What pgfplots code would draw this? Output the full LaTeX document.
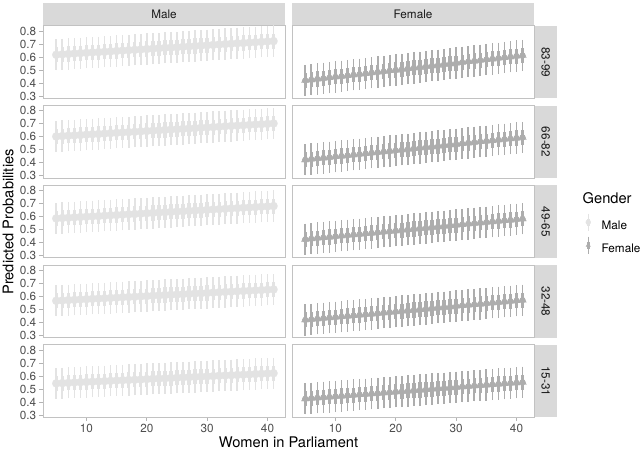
\documentclass[border=0pt]{standalone}
\usepackage{fontspec}
\setmainfont{TeX Gyre Heros}
\usepackage{pgfplots}
\usepackage{pgfplotstable}
\pgfplotsset{compat=1.18}

\definecolor{malecol}{HTML}{E3E3E3}
\definecolor{femalecol}{HTML}{ADADAD}
\definecolor{stripcol}{HTML}{D9D9D9}
\definecolor{bordercol}{HTML}{C2C2C2}
\definecolor{tickcol}{HTML}{B3B3B3}
\definecolor{labcol}{HTML}{4D4D4D}
\definecolor{striptext}{HTML}{1A1A1A}

% predicted probabilities, one column per panel (m = Male, f = Female; 1 = 83-99 ... 5 = 15-31)
\pgfplotstableread{
x  m1    m2    m3    m4    m5    f1    f2    f3    f4    f5
5  0.617 0.602 0.585 0.565 0.543 0.420 0.423 0.425 0.418 0.425
6  0.620 0.605 0.588 0.567 0.545 0.425 0.428 0.429 0.422 0.429
7  0.623 0.608 0.590 0.570 0.547 0.431 0.433 0.434 0.426 0.432
8  0.626 0.610 0.593 0.572 0.550 0.436 0.437 0.438 0.431 0.436
9  0.629 0.613 0.596 0.575 0.552 0.441 0.442 0.442 0.435 0.439
10 0.632 0.616 0.598 0.577 0.554 0.447 0.447 0.447 0.439 0.443
11 0.635 0.619 0.601 0.580 0.556 0.452 0.452 0.451 0.443 0.446
12 0.637 0.621 0.603 0.582 0.558 0.457 0.456 0.456 0.448 0.450
13 0.640 0.624 0.606 0.584 0.560 0.463 0.461 0.460 0.452 0.453
14 0.643 0.627 0.609 0.587 0.563 0.468 0.466 0.464 0.456 0.457
15 0.646 0.630 0.611 0.589 0.565 0.473 0.471 0.469 0.460 0.460
16 0.649 0.633 0.614 0.592 0.567 0.479 0.476 0.473 0.464 0.464
17 0.652 0.635 0.617 0.594 0.569 0.484 0.480 0.477 0.469 0.467
18 0.655 0.638 0.619 0.596 0.571 0.489 0.485 0.482 0.473 0.471
19 0.658 0.641 0.622 0.599 0.573 0.495 0.490 0.486 0.477 0.474
20 0.661 0.644 0.625 0.601 0.576 0.500 0.495 0.490 0.481 0.478
21 0.664 0.646 0.627 0.604 0.578 0.505 0.499 0.495 0.486 0.481
22 0.667 0.649 0.630 0.606 0.580 0.511 0.504 0.499 0.490 0.485
23 0.670 0.652 0.633 0.609 0.582 0.516 0.509 0.504 0.494 0.489
24 0.672 0.655 0.635 0.611 0.584 0.521 0.514 0.508 0.498 0.492
25 0.675 0.658 0.638 0.613 0.586 0.527 0.519 0.512 0.502 0.496
26 0.678 0.660 0.640 0.616 0.589 0.532 0.523 0.517 0.507 0.499
27 0.681 0.663 0.643 0.618 0.591 0.537 0.528 0.521 0.511 0.503
28 0.684 0.666 0.646 0.621 0.593 0.543 0.533 0.525 0.515 0.506
29 0.687 0.669 0.648 0.623 0.595 0.548 0.538 0.530 0.519 0.510
30 0.690 0.671 0.651 0.625 0.597 0.553 0.542 0.534 0.524 0.513
31 0.693 0.674 0.654 0.628 0.599 0.559 0.547 0.538 0.528 0.517
32 0.696 0.677 0.656 0.630 0.602 0.564 0.552 0.543 0.532 0.520
33 0.699 0.680 0.659 0.633 0.604 0.569 0.557 0.547 0.536 0.524
34 0.702 0.683 0.662 0.635 0.606 0.575 0.562 0.551 0.540 0.527
35 0.705 0.685 0.664 0.638 0.608 0.580 0.566 0.556 0.545 0.531
36 0.707 0.688 0.667 0.640 0.610 0.585 0.571 0.560 0.549 0.534
37 0.710 0.691 0.669 0.642 0.612 0.591 0.576 0.565 0.553 0.538
38 0.713 0.694 0.672 0.645 0.615 0.596 0.581 0.569 0.557 0.541
39 0.716 0.696 0.675 0.647 0.617 0.601 0.585 0.573 0.562 0.545
40 0.719 0.699 0.677 0.650 0.619 0.607 0.590 0.578 0.566 0.548
41 0.722 0.702 0.680 0.652 0.621 0.612 0.595 0.582 0.570 0.552
}\preds

\pgfplotsset{
  panel/.style={
    scale only axis, width=181.5pt, height=54.375pt, anchor=south west,
    xmin=2.8, xmax=42.9, ymin=0.281, ymax=0.838,
    axis line style={draw=bordercol, line width=0.75pt},
    tick align=outside, tick pos=left, major tick length=2.75pt,
    tick style={draw=tickcol, line width=0.6pt},
    xtick=\empty, ytick=\empty,
    tick label style={font=\fontsize{8.8}{10}\selectfont, text=labcol, inner sep=2.2pt},
  },
  leftcol/.style={ytick={0.3,0.4,0.5,0.6,0.7,0.8},
    yticklabels={0.3,0.4,0.5,0.6,0.7,0.8}},
  bottomrow/.style={xtick={10,20,30,40}, xticklabels={10,20,30,40}},
  outerbar/.style={forget plot, only marks, mark=none, draw=#1, fill=#1,
    error bars/y dir=both, error bars/y fixed=0.12, error bars/error mark=none,
    error bars/error bar style={draw=#1, line width=1.25pt}},
  innerbar/.style={forget plot, only marks, mark=none, draw=#1, fill=#1,
    error bars/y dir=both, error bars/y fixed=0.058, error bars/error mark=none,
    error bars/error bar style={draw=#1, line width=2.5pt}},
  malepts/.style={forget plot, only marks, mark=*, mark size=3.1pt,
    draw=malecol, fill=malecol, mark options={draw=malecol, fill=malecol, line width=0.1pt}},
  femalepts/.style={forget plot, only marks, mark=triangle*, mark size=3.4pt,
    draw=femalecol, fill=femalecol, mark options={draw=femalecol, fill=femalecol, line width=0.1pt}},
}

% one pointrange series: colour, column, point style
\newcommand{\series}[3]{%
  \addplot[outerbar=#1] table[x=x, y=#2] {\preds};
  \addplot[innerbar=#1] table[x=x, y=#2] {\preds};
  \addplot[#3] table[x=x, y=#2] {\preds};
}

\begin{document}
\begin{tikzpicture}
\useasboundingbox (0,0) rectangle (480pt,339.75pt);

% facet strips
\fill[stripcol] (32.25pt,320.25pt) rectangle (213.75pt,337.85pt);
\fill[stripcol] (219pt,320.25pt) rectangle (400.5pt,337.85pt);
\foreach \yb/\yt in {265.875/320.25, 206.0625/260.4375, 146.25/200.625, 86.4375/140.8125, 26.625/81}
  \fill[stripcol] (400.5pt,\yb pt) rectangle (418.1pt,\yt pt);

\begin{scope}[every node/.style={font=\fontsize{8.8}{10}\selectfont, text=striptext}]
\node[anchor=base] at (123pt,325.7pt) {Male};
\node[anchor=base] at (309.75pt,325.7pt) {Female};
\node[anchor=base, rotate=-90] at (406.15pt,293.06pt) {83-99};
\node[anchor=base, rotate=-90] at (406.15pt,233.25pt) {66-82};
\node[anchor=base, rotate=-90] at (406.15pt,173.44pt) {49-65};
\node[anchor=base, rotate=-90] at (406.15pt,113.63pt) {32-48};
\node[anchor=base, rotate=-90] at (406.15pt,53.81pt) {15-31};
\end{scope}

% row 1: 83-99
\begin{axis}[panel, leftcol, at={(32.25pt,265.875pt)}]
\series{malecol}{m1}{malepts}
\end{axis}
\begin{axis}[panel, at={(219pt,265.875pt)}]
\series{femalecol}{f1}{femalepts}
\end{axis}

% row 2: 66-82
\begin{axis}[panel, leftcol, at={(32.25pt,206.0625pt)}]
\series{malecol}{m2}{malepts}
\end{axis}
\begin{axis}[panel, at={(219pt,206.0625pt)}]
\series{femalecol}{f2}{femalepts}
\end{axis}

% row 3: 49-65 (carries the legend)
\begin{axis}[panel, leftcol, at={(32.25pt,146.25pt)}]
\series{malecol}{m3}{malepts}
\end{axis}
\begin{axis}[panel, at={(219pt,146.25pt)},
    legend cell align=left,
    legend style={draw=none, fill=none, inner sep=0pt, row sep=0pt, column sep=3.5pt,
      at={(axis description cs:1.1873,0.6552)}, anchor=north west,
      font=\fontsize{8.8}{10}\selectfont, nodes={inner sep=0pt, draw=none}},
    legend image code/.code={
      \draw[#1, line width=1.1pt, mark=none] (6.5pt,-3.3pt) -- (6.5pt,9.5pt);
      \draw[#1, line width=2pt, mark=none] (6.5pt,0.6pt) -- (6.5pt,5.6pt);
      \draw[#1, mark size=1.8pt] plot coordinates {(6.5pt,3.1pt)};
      \path[draw=none, fill=none] (0pt,-5.525pt) rectangle (13pt,11.725pt);
    }]
\series{femalecol}{f3}{femalepts}
\addlegendimage{draw=malecol, fill=malecol, mark=*}
\addlegendentry{Male}
\addlegendimage{draw=femalecol, fill=femalecol, mark=triangle*}
\addlegendentry{Female}
\end{axis}

% row 4: 32-48
\begin{axis}[panel, leftcol, at={(32.25pt,86.4375pt)}]
\series{malecol}{m4}{malepts}
\end{axis}
\begin{axis}[panel, at={(219pt,86.4375pt)}]
\series{femalecol}{f4}{femalepts}
\end{axis}

% row 5: 15-31
\begin{axis}[panel, leftcol, bottomrow, at={(32.25pt,26.625pt)}]
\series{malecol}{m5}{malepts}
\end{axis}
\begin{axis}[panel, bottomrow, at={(219pt,26.625pt)}]
\series{femalecol}{f5}{femalepts}
\end{axis}

% titles
\node[anchor=base west, font=\fontsize{11}{13}\selectfont] at (433.5pt,187.3pt) {Gender};
\node[anchor=base, font=\fontsize{11}{13}\selectfont] at (216.4pt,3.75pt) {Women in Parliament};
\node[anchor=base, rotate=90, font=\fontsize{11}{13}\selectfont] at (10pt,173.25pt) {Predicted Probabilities};
\end{tikzpicture}
\end{document}
